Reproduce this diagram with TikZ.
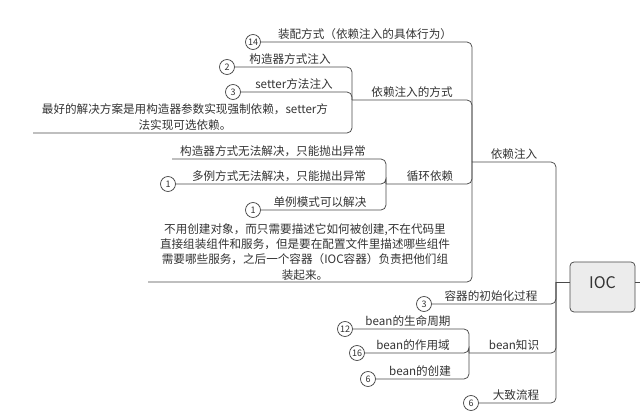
\documentclass[tikz,border=0pt]{standalone}
\usepackage{fontspec}
\setmainfont{Noto Sans CJK SC}
\definecolor{ln}{HTML}{4A4A4A}
\definecolor{tx}{HTML}{333333}
\begin{document}
\begin{tikzpicture}[x=1pt,y=-1pt,
  conn/.style={draw=ln,line width=0.75pt,rounded corners=5pt},
  lbl/.style={anchor=south,inner sep=0pt,text=tx,font=\fontsize{11.6}{15.4}\selectfont},
  num/.style={circle,draw=ln,line width=0.75pt,fill=white,minimum size=15pt,inner sep=0pt,text=tx,font=\fontsize{9}{10}\selectfont},
  iocbox/.style={draw=ln,line width=0.75pt,fill=gray!15,rounded corners=4pt,minimum width=65pt,minimum height=50pt,text height=12pt,text depth=10pt,text=tx,font=\fontsize{16}{18}\selectfont}]
\useasboundingbox (0,0) rectangle (640,414);
% junctions
\coordinate (J0) at (556,282);
\coordinate (J1) at (472,162);
\coordinate (J2) at (352,100);
\coordinate (J3) at (386,184);
\coordinate (J4) at (469,353);
\coordinate (E) at (640,282);
\coordinate (D) at (148,282);
\coordinate (B) at (33,133);
\coordinate (K) at (172,159);
% root
\node[iocbox] (ioc) at (602.5,287) {IOC};
\draw[conn] (J0) -- (J0 -| ioc.west);
\draw[conn] (ioc.east |- E) -- (E);
% circles
\node[num] (c3a) at (424,304) {3};
\node[num] (c6b) at (471,403) {6};
\node[num] (c14) at (253,42) {14};
\node[num] (c2) at (227,67) {2};
\node[num] (c3b) at (233,92) {3};
\node[num] (c1a) at (168,184) {1};
\node[num] (c1b) at (253,210) {1};
\node[num] (c12) at (345,329) {12};
\node[num] (c16) at (357,353) {16};
\node[num] (c6a) at (368,379) {6};
% connectors to IOC
\draw[conn] (J1) -| (J0);
\draw[conn] (c3a.east) -| (J0);
\draw[conn] (J4) -| (J0);
\draw[conn] (c6b.east) -| (J0);
% connectors to 依赖注入
\draw[conn] (c14.east) -| (J1);
\draw[conn] (J2) -| (J1);
\draw[conn] (J3) -| (J1);
\draw[conn] (D) -| (J1);
% connectors to 依赖注入的方式
\draw[conn] (c2.east) -| (J2);
\draw[conn] (c3b.east) -| (J2);
\draw[conn] (B) -| (J2);
% connectors to 循环依赖
\draw[conn] (K) -| (J3);
\draw[conn] (c1a.east) -| (J3);
\draw[conn] (c1b.east) -| (J3);
% connectors to bean知识
\draw[conn] (c12.east) -| (J4);
\draw[conn] (c16.east) -| (J4);
\draw[conn] (c6a.east) -| (J4);
% labels
\node[lbl] (tdi) at (514,159.5) {依赖注入};
\node[lbl] (tinit) at (491,301.5) {容器的初始化过程};
\node[lbl] (tbean) at (514,350.5) {bean知识};
\node[lbl] (tflow) at (516,400.5) {大致流程};
\node[lbl] (tzp) at (365,39.5) {装配方式（依赖注入的具体行为）};
\node[lbl] (tfs) at (412,97.5) {依赖注入的方式};
\node[lbl] (txh) at (430,181.5) {循环依赖};
\node[lbl,align=center] (tdesc) at (305,280.5) {不用创建对象，而只需要描述它如何被创建,不在代码里\\直接组装组件和服务，但是要在配置文件里描述哪些组件\\需要哪些服务，之后一个容器（IOC容器）负责把他们组\\装起来。};
\node[lbl] (tgz) at (290,64.5) {构造器方式注入};
\node[lbl] (tset) at (294,89.5) {setter方法注入};
\node[lbl,align=center] (tbest) at (185,130.5) {最好的解决方案是用构造器参数实现强制依赖，setter方\\法实现可选依赖。};
\node[lbl] (tgzno) at (273,156.5) {构造器方式无法解决，只能抛出异常};
\node[lbl] (tdl) at (279,181.5) {多例方式无法解决，只能抛出异常};
\node[lbl] (tdan) at (320,207.5) {单例模式可以解决};
\node[lbl] (tlife) at (408,326.5) {bean的生命周期};
\node[lbl] (tscope) at (413,350.5) {bean的作用域};
\node[lbl] (tcreate) at (420,376.5) {bean的创建};
\end{tikzpicture}
\end{document}
